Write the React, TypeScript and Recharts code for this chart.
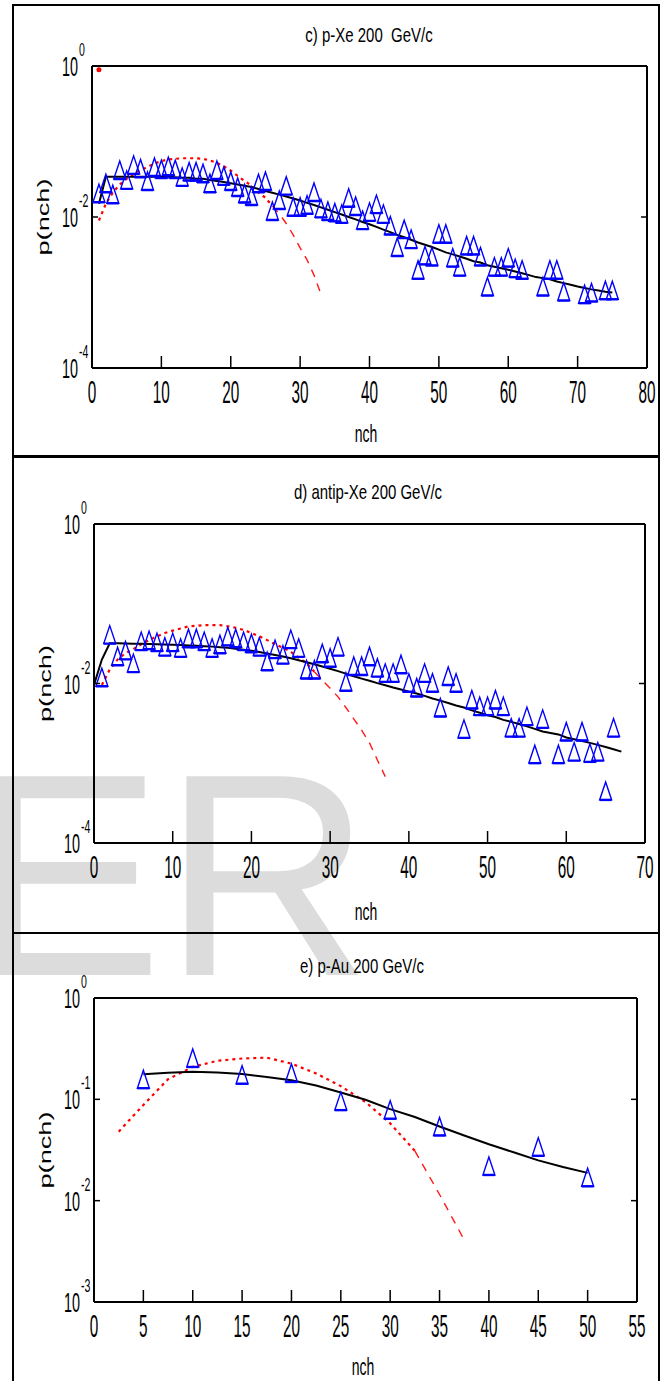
import React from "react";
import { ComposedChart, Line, Scatter, XAxis, YAxis } from "recharts";

const FONT = "'Liberation Sans', Arial, Helvetica, sans-serif";

// ── c) p-Xe 200 GeV/c ──
const nchC = [
  1, 2, 3, 4, 5, 6, 7, 8, 9, 10, 11, 12, 13, 14, 15, 16, 17, 18, 19, 20, 21, 22, 23, 24, 25,
  26, 27, 28, 29, 30, 31, 32, 33, 34, 35, 36, 37, 38, 39, 40, 41, 42, 43, 44, 45, 46, 47, 48,
  49, 50, 51, 52, 53, 54, 55, 56, 57, 58, 59, 60, 61, 62, 65, 66, 67, 68, 71, 72, 74, 75,
];
const dataC = [
  0.0206, 0.028, 0.02, 0.042, 0.031, 0.049, 0.044, 0.03, 0.046, 0.043, 0.047, 0.043, 0.034,
  0.04, 0.04, 0.038, 0.028, 0.042, 0.035, 0.03, 0.025, 0.0205, 0.019, 0.028, 0.03, 0.012,
  0.0168, 0.026, 0.0137, 0.0137, 0.0145, 0.0214, 0.013, 0.012, 0.0115, 0.011, 0.018, 0.014,
  0.0091, 0.0117, 0.0148, 0.011, 0.0077, 0.004, 0.0069, 0.0051, 0.002, 0.0031, 0.003, 0.006,
  0.006, 0.0029, 0.0022, 0.0042, 0.0042, 0.003, 0.0012, 0.0022, 0.0022, 0.0029, 0.0021, 0.002,
  0.0012, 0.002, 0.002, 0.00103, 0.00095, 0.001, 0.00107, 0.00107,
];
const fitNchC = [
  1, 2, 3, 4, 5, 6, 7, 8, 9, 10, 11, 12, 13, 14, 15, 16, 17, 18, 19, 20, 21, 22, 23, 24, 25,
  26, 27, 28, 29, 30, 31, 32, 33, 34, 35, 36, 37, 38, 39, 40, 41, 42, 43, 44, 45, 46, 47, 48,
  49, 50, 51, 52, 53, 54, 55, 56, 57, 58, 59, 60, 61, 62, 63, 64, 65, 66, 67, 68, 69, 70, 71,
  72, 73, 74, 75,
];
const fitC = [
  0.015, 0.034, 0.034, 0.034, 0.034, 0.034, 0.034, 0.034, 0.034, 0.034, 0.034, 0.0335, 0.033,
  0.033, 0.032, 0.032, 0.031, 0.03, 0.029, 0.028, 0.027, 0.026, 0.025, 0.0235, 0.022, 0.021,
  0.0198, 0.0187, 0.0176, 0.0165, 0.0154, 0.0144, 0.0134, 0.0125, 0.0116, 0.0108, 0.01, 0.0093,
  0.0086, 0.008, 0.0074, 0.0068, 0.0063, 0.0058, 0.0054, 0.005, 0.0046, 0.0043, 0.004, 0.0037,
  0.0034, 0.0032, 0.003, 0.0028, 0.0026, 0.0025, 0.0023, 0.0022, 0.0021, 0.002, 0.0019, 0.0018,
  0.0017, 0.0016, 0.00155, 0.0015, 0.0014, 0.00133, 0.00127, 0.0012, 0.00115, 0.0011, 0.00106,
  0.00102, 0.001,
];
const calcNchC = [
  1, 2, 3, 4, 5, 6, 7, 8, 9, 10, 11, 12, 13, 14, 15, 16, 17, 18, 19, 20, 21, 22, 23, 24, 25,
  26, 27, 28, 29, 30, 31, 32, 33,
];
const calcC = [
  0.009, 0.015, 0.021, 0.027, 0.032, 0.037, 0.042, 0.046, 0.051, 0.055, 0.058, 0.059, 0.06,
  0.06, 0.06, 0.059, 0.056, 0.052, 0.047, 0.041, 0.035, 0.03, 0.026, 0.021, 0.018, 0.014,
  0.011, 0.0082, 0.0058, 0.0039, 0.0027, 0.0017, 0.00095,
];

// ── d) antip-Xe 200 GeV/c ──
const nchD = [
  1, 2, 3, 4, 5, 6, 7, 8, 9, 10, 11, 12, 13, 14, 15, 16, 17, 18, 19, 20, 21, 22, 23, 24, 25,
  26, 27, 28, 29, 30, 31, 32, 33, 34, 35, 36, 37, 38, 39, 40, 41, 42, 43, 44, 45, 46, 47, 48,
  49, 50, 51, 52, 53, 54, 55, 56, 57, 59, 60, 61, 62, 63, 64, 65, 66,
];
const dataD = [
  0.012, 0.041, 0.022, 0.026, 0.018, 0.034, 0.035, 0.033, 0.029, 0.033, 0.028, 0.037, 0.037,
  0.034, 0.028, 0.031, 0.039, 0.037, 0.034, 0.032, 0.029, 0.019, 0.027, 0.023, 0.036, 0.028,
  0.015, 0.015, 0.024, 0.021, 0.029, 0.0105, 0.0166, 0.0166, 0.022, 0.0158, 0.0136, 0.0136,
  0.0174, 0.0102, 0.0089, 0.0136, 0.0102, 0.005, 0.0124, 0.0102, 0.0027, 0.0063, 0.0052,
  0.0052, 0.0063, 0.0052, 0.0028, 0.0028, 0.0039, 0.0013, 0.0036, 0.0013, 0.0025, 0.0014,
  0.0025, 0.00135, 0.0014, 0.00045, 0.0028,
];
const fitNchD = [
  0, 1, 2, 3, 4, 5, 6, 7, 8, 9, 10, 11, 12, 13, 14, 15, 16, 17, 18, 19, 20, 21, 22, 23, 24,
  25, 26, 27, 28, 29, 30, 31, 32, 33, 34, 35, 36, 37, 38, 39, 40, 41, 42, 43, 44, 45, 46, 47,
  48, 49, 50, 51, 52, 53, 54, 55, 56, 57, 58, 59, 60, 61, 62, 63, 64, 65, 66, 67,
];
const fitD = [
  0.0096, 0.02, 0.032, 0.032, 0.0318, 0.0316, 0.0314, 0.0312, 0.031, 0.0308, 0.0306, 0.0303,
  0.03, 0.0297, 0.0294, 0.029, 0.0285, 0.028, 0.0273, 0.0265, 0.0257, 0.0248, 0.0238, 0.0228,
  0.0218, 0.0207, 0.0196, 0.0185, 0.0174, 0.0163, 0.0153, 0.0143, 0.0133, 0.0123, 0.0115,
  0.0108, 0.0101, 0.0095, 0.0089, 0.0084, 0.0079, 0.0075, 0.007, 0.0065, 0.0061, 0.0057,
  0.0053, 0.005, 0.0046, 0.0043, 0.004, 0.0038, 0.0035, 0.0033, 0.0031, 0.0029, 0.0027,
  0.0025, 0.0024, 0.0023, 0.0021, 0.002, 0.0019, 0.0018, 0.0017, 0.0016, 0.0015, 0.0014,
];
const calcNchD = [
  1, 2, 3, 4, 5, 6, 7, 8, 9, 10, 11, 12, 13, 14, 15, 16, 17, 18, 19, 20, 21, 22, 23, 24, 25,
  26, 27, 28, 29, 30, 31, 32, 33, 34, 35, 36, 37,
];
const calcD = [
  0.0096, 0.015, 0.02, 0.024, 0.027, 0.031, 0.035, 0.039, 0.043, 0.046, 0.049, 0.052, 0.053,
  0.054, 0.054, 0.054, 0.052, 0.05, 0.047, 0.043, 0.039, 0.035, 0.031, 0.028, 0.025, 0.021,
  0.018, 0.014, 0.011, 0.0087, 0.0068, 0.005, 0.0036, 0.0026, 0.0018, 0.0011, 0.00068,
];

// ── e) p-Au 200 GeV/c ──
const nchE = [5, 10, 15, 20, 25, 30, 35, 40, 45, 50];
const dataE = [0.158, 0.256, 0.175, 0.182, 0.096, 0.079, 0.054, 0.022, 0.034, 0.017];
const fitNchE = [5, 7.5, 10, 12.5, 15, 17.5, 20, 22.5, 25, 27.5, 30, 32.5, 35, 37.5, 40, 42.5, 45, 47.5, 50];
const fitE = [
  0.177, 0.183, 0.187, 0.184, 0.178, 0.166, 0.154, 0.137, 0.117, 0.099, 0.08, 0.067, 0.054,
  0.044, 0.036, 0.03, 0.025, 0.0215, 0.0188,
];
const calcNchE = [2.5, 5, 7.5, 10, 12.5, 15, 17.5, 20, 22.5, 25, 27.5, 30, 32.5, 35, 37.5];
const calcE = [
  0.048, 0.088, 0.158, 0.209, 0.24, 0.253, 0.258, 0.225, 0.18, 0.135, 0.094, 0.058, 0.031,
  0.0115, 0.0041,
];

type Pt = { n: number; v: number };
const pts = (xs: number[], ys: number[]): Pt[] => xs.map((n, i) => ({ n, v: ys[i] }));

const panels = [
  {
    title: "c) p-Xe 200  GeV/c",
    top: 0,
    height: 457,
    plotTop: 66,
    plotBottom: 368,
    plotLeft: 92,
    plotRight: 647,
    xTicks: [0, 10, 20, 30, 40, 50, 60, 70, 80],
    yTicks: [1e-4, 1e-2, 1],
    data: pts(nchC, dataC),
    fit: pts(fitNchC, fitC),
    calc: pts(calcNchC, calcC),
    dashFrom: 26,
    extra: [{ n: 1, v: 0.95 }],
    titleX: 369,
    titleY: 42,
    nchX: 366,
    nchY: 442,
    yLabX: 49,
  },
  {
    title: "d) antip-Xe 200 GeV/c",
    top: 457,
    height: 476,
    plotTop: 524,
    plotBottom: 843,
    plotLeft: 94,
    plotRight: 645,
    xTicks: [0, 10, 20, 30, 40, 50, 60, 70],
    yTicks: [1e-4, 1e-2, 1],
    data: pts(nchD, dataD),
    fit: pts(fitNchD, fitD),
    calc: pts(calcNchD, calcD),
    dashFrom: 28,
    extra: [],
    titleX: 368,
    titleY: 499,
    nchX: 366,
    nchY: 920,
    yLabX: 51,
  },
  {
    title: "e) p-Au 200 GeV/c",
    top: 933,
    height: 448,
    plotTop: 998,
    plotBottom: 1302,
    plotLeft: 94,
    plotRight: 637,
    xTicks: [0, 5, 10, 15, 20, 25, 30, 35, 40, 45, 50, 55],
    yTicks: [1e-3, 1e-2, 1e-1, 1],
    data: pts(nchE, dataE),
    fit: pts(fitNchE, fitE),
    calc: pts(calcNchE, calcE),
    dashFrom: 32.5,
    extra: [],
    titleX: 362,
    titleY: 973,
    nchX: 363,
    nchY: 1375,
    yLabX: 51,
  },
];

const frames = [
  { top: 4, height: 453 },
  { top: 456, height: 478 },
  { top: 932, height: 470 },
];

function Tri(props: any) {
  const { cx, cy } = props;
  if (cx == null || cy == null) return null;
  const w = 12;
  const h = 18;
  return (
    <g>
      <path
        d={`M${cx},${cy - h / 2}L${cx + w / 2},${cy + h / 2}L${cx - w / 2},${cy + h / 2}Z`}
        fill="none"
        stroke="#0000ff"
        strokeWidth={1.4}
      />
      <line x1={cx - w / 2} x2={cx + w / 2} y1={cy + h / 2} y2={cy + h / 2} stroke="#0000ff" strokeWidth={2.4} />
    </g>
  );
}

function RedMark(props: any) {
  const { cx, cy } = props;
  if (cx == null || cy == null) return null;
  return <circle cx={cx} cy={cy + 2} r={2.5} fill="#ff0000" />;
}

function Panel({ p }: { p: (typeof panels)[number] }) {
  const xMax = p.xTicks[p.xTicks.length - 1];
  const yMin = p.yTicks[0];
  const yMax = p.yTicks[p.yTicks.length - 1];
  const inner = (v: number, lo: number, hi: number) => v > lo && v < hi;

  const bottomTick = (t: any) => (
    <g>
      {inner(t.payload.value, 0, xMax) && (
        <line x1={t.x} x2={t.x} y1={t.y} y2={t.y - 12} stroke="#000" strokeWidth={1.5} />
      )}
      <text
        transform={`translate(${t.x},${t.y + 35}) scale(0.9,1.8)`}
        textAnchor="middle"
        fontSize={17}
        fontFamily={FONT}
        fill="#000"
      >
        {t.payload.value}
      </text>
    </g>
  );
  const topTick = (t: any) =>
    inner(t.payload.value, 0, xMax) ? (
      <line x1={t.x} x2={t.x} y1={t.y} y2={t.y + 10} stroke="#000" strokeWidth={1.5} />
    ) : (
      <g />
    );
  const leftTick = (t: any) => {
    const exp = Math.round(Math.log10(t.payload.value));
    return (
      <g>
        {inner(t.payload.value, yMin, yMax) && (
          <line x1={t.x} x2={t.x + 6} y1={t.y} y2={t.y} stroke="#000" strokeWidth={1.5} />
        )}
        <text
          transform={`translate(${t.x - 14},${t.y + 10}) scale(0.9,1.75)`}
          textAnchor="end"
          fontSize={16}
          fontFamily={FONT}
          fill="#000"
        >
          10
        </text>
        <text
          transform={`translate(${t.x - 13},${t.y - 10}) scale(0.88,1.6)`}
          fontSize={12}
          fontFamily={FONT}
          fill="#000"
        >
          {exp}
        </text>
      </g>
    );
  };
  const rightTick = (t: any) =>
    inner(t.payload.value, yMin, yMax) ? (
      <line x1={t.x} x2={t.x - 6} y1={t.y} y2={t.y} stroke="#000" strokeWidth={1.5} />
    ) : (
      <g />
    );

  const calcDot = p.calc.filter((d) => d.n <= p.dashFrom);
  const calcDash = p.calc.filter((d) => d.n >= p.dashFrom);

  return (
    <div style={{ position: "absolute", left: 0, top: p.top }}>
      <ComposedChart width={668} height={p.height} margin={{ top: 0, right: 0, bottom: 0, left: 0 }}>
        <XAxis
          xAxisId="bottom"
          dataKey="n"
          type="number"
          domain={[0, xMax]}
          ticks={p.xTicks}
          interval={0}
          height={p.top + p.height - p.plotBottom}
          tickSize={0}
          tickMargin={0}
          tickLine={false}
          axisLine={{ stroke: "#000", strokeWidth: 2 }}
          tick={bottomTick}
        />
        <XAxis
          xAxisId="top"
          orientation="top"
          dataKey="n"
          type="number"
          domain={[0, xMax]}
          ticks={p.xTicks}
          interval={0}
          height={p.plotTop - p.top}
          tickSize={0}
          tickMargin={0}
          tickLine={false}
          axisLine={{ stroke: "#000", strokeWidth: 2 }}
          tick={topTick}
        />
        <YAxis
          yAxisId="left"
          type="number"
          scale="log"
          domain={[yMin, yMax]}
          allowDataOverflow
          ticks={p.yTicks}
          interval={0}
          width={p.plotLeft}
          tickSize={0}
          tickMargin={0}
          tickLine={false}
          axisLine={{ stroke: "#000", strokeWidth: 2 }}
          tick={leftTick}
        />
        <YAxis
          yAxisId="right"
          orientation="right"
          type="number"
          scale="log"
          domain={[yMin, yMax]}
          allowDataOverflow
          ticks={p.yTicks}
          interval={0}
          width={668 - p.plotRight}
          tickSize={0}
          tickMargin={0}
          tickLine={false}
          axisLine={{ stroke: "#000", strokeWidth: 2 }}
          tick={rightTick}
        />
        <Line
          xAxisId="bottom"
          yAxisId="left"
          data={calcDot}
          dataKey="v"
          type="linear"
          stroke="#ff0000"
          strokeWidth={2.2}
          strokeDasharray="3 4"
          dot={false}
          isAnimationActive={false}
        />
        <Line
          xAxisId="bottom"
          yAxisId="left"
          data={calcDash}
          dataKey="v"
          type="linear"
          stroke="#ff1a1a"
          strokeWidth={1.4}
          strokeDasharray="8 7"
          dot={false}
          isAnimationActive={false}
        />
        <Line
          xAxisId="bottom"
          yAxisId="left"
          data={p.fit}
          dataKey="v"
          type="linear"
          stroke="#000"
          strokeWidth={2}
          dot={false}
          isAnimationActive={false}
        />
        <Scatter
          xAxisId="bottom"
          yAxisId="left"
          data={p.data}
          dataKey="v"
          shape={Tri}
          isAnimationActive={false}
        />
        {p.extra.length > 0 && (
          <Scatter
            xAxisId="bottom"
            yAxisId="left"
            data={p.extra}
            dataKey="v"
            shape={RedMark}
            isAnimationActive={false}
          />
        )}
      </ComposedChart>
    </div>
  );
}

export default function App() {
  return (
    <div
      style={{
        position: "absolute",
        left: 0,
        top: 0,
        width: 668,
        height: 1381,
        overflow: "hidden",
        background: "#fff",
      }}
    >
      {/* watermark, behind everything */}
      <svg width={668} height={1381} style={{ position: "absolute", left: 0, top: 0 }}>
        <text x={-30} y={975} fontSize={289} fontFamily={FONT} fill="#dcdcdc">
          ER
        </text>
      </svg>

      {frames.map((f, i) => (
        <div
          key={i}
          style={{
            position: "absolute",
            left: 12,
            top: f.top,
            width: 648,
            height: f.height,
            border: "2px solid #000",
            boxSizing: "border-box",
          }}
        />
      ))}

      {panels.map((p, i) => (
        <Panel key={i} p={p} />
      ))}

      {/* titles and axis names */}
      <svg
        width={668}
        height={1381}
        style={{ position: "absolute", left: 0, top: 0, pointerEvents: "none" }}
      >
        {panels.map((p, i) => {
          const midY = (p.plotTop + p.plotBottom) / 2;
          return (
            <g key={i} fontFamily={FONT} fill="#000">
              <text
                transform={`translate(${p.titleX},${p.titleY}) scale(1.07,1.45)`}
                textAnchor="middle"
                fontSize={14}
                style={{ whiteSpace: "pre" }}
              >
                {p.title}
              </text>
              <text
                transform={`translate(${p.nchX},${p.nchY}) scale(1,1.7)`}
                textAnchor="middle"
                fontSize={14}
              >
                nch
              </text>
              <text
                transform={`translate(${p.yLabX},${midY}) rotate(-90) scale(1.7,1)`}
                textAnchor="middle"
                fontSize={16}
              >
                p(nch)
              </text>
            </g>
          );
        })}
      </svg>
    </div>
  );
}
